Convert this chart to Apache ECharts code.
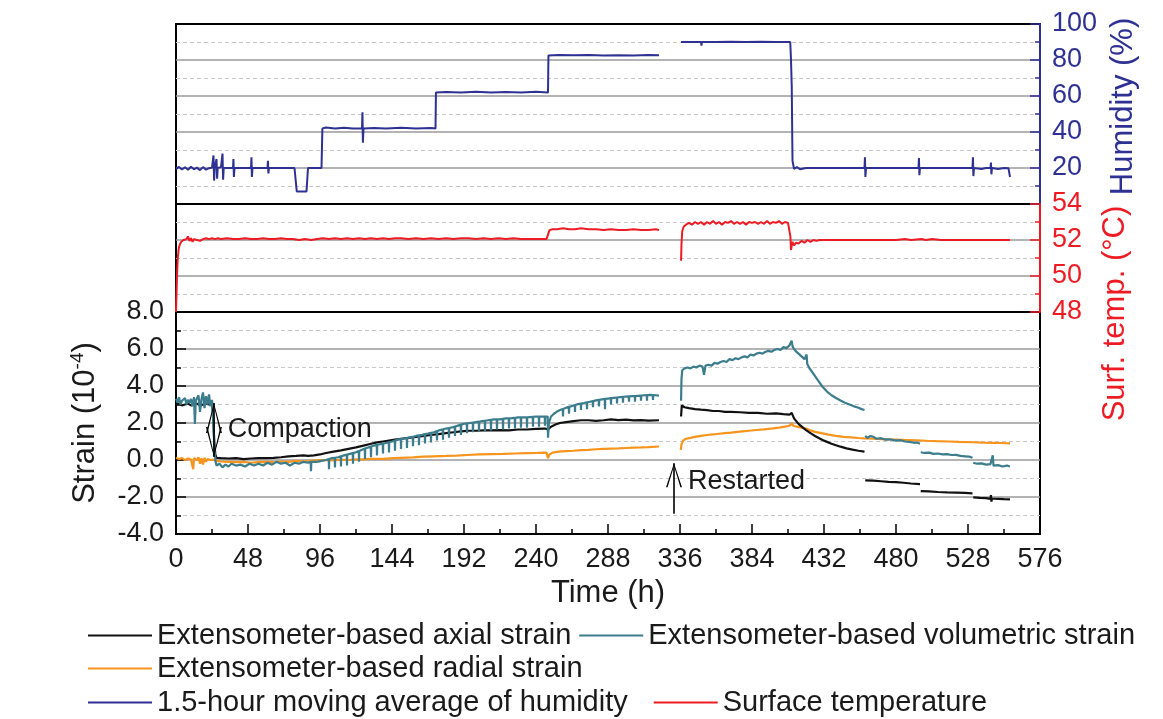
<!DOCTYPE html>
<html>
<head>
<meta charset="utf-8">
<title>Strain, humidity and surface temperature</title>
<script src="https://cdn.jsdelivr.net/npm/echarts@6/dist/echarts.min.js"></script>
<style>
  html, body { margin: 0; padding: 0; background: #fff; }
  #chart { width: 1163px; height: 719px; }
</style>
</head>
<body>
<div id="chart"></div>
<script>
// ---- data: [time (h), value]; null marks a break in the record ----
const timeTicks = [0, 48, 96, 144, 192, 240, 288, 336, 384, 432, 480, 528, 576];

const humidity = [
  [0,19.5],[2,20.6],[4,19.2],[6,20.4],[8,19.0],[10,20.7],[12,19.3],[14,20.2],[16,18.8],[18,20.5],[20,19.1],[22,19.9],[24,20.2],
  [25,27],[25.4,13],[25.8,20],[27,25],[27.4,14],[27.8,20],[30,20.5],[31,28],[31.4,13.5],[31.8,20],[34,20],[38,20],[38.3,25],[38.6,15],[39,20],
  [44,20],[50,20],[50.3,26],[50.6,15],[51,20],[56,20],[61,20],[61.3,24],[61.6,17],[62,20],[70,20],[79,20],[80.5,7],[87,7],[88,20],
  [92,20],[97,20],[97.6,42],[100,42.5],[106,42],[112,42.3],[118,42],[124,42],[124.3,51],[124.6,34],[125,42],[132,42.2],[140,42],
  [150,42.3],[160,42],[170,42.2],[173,42],[173.3,62],[180,62.2],[190,62],[200,62.3],[210,62],[220,62.2],[230,62],[240,62.3],[248,62],
  [248.3,82.5],[255,82.8],[265,82.6],[275,82.8],[285,82.5],[295,82.7],[305,82.5],[315,82.8],[322,82.6],
  [329,null],
  [336.7,90],[345,90],[350,90],[350.3,88],[350.6,90],[360,90],[370,90.2],[380,90],[390,90.2],[400,90],[409.5,90],[410,80],[410.5,65],
  [411,24],[412,19.5],[414,20.5],[416,19.3],[420,20],[430,20],[440,20],[450,20],[459,20],[459.3,26],[459.6,15],[460,20],[470,20],
  [480,20],[490,20],[495,20],[495.3,25.5],[495.6,16],[496,20],[505,20],[515,20],[525,20],[531,20],[531.3,26],[531.6,15.5],[532,20],
  [537,19.5],[540,20],[543,20],[543.3,23],[543.6,16.5],[544,20],[548,19.5],[552,20],[555,19.8],[556,15]
];

const surfaceTemp = [
  [0,48],[0.4,49.2],[0.8,50.3],[1.2,51.0],[1.8,51.5],[2.5,51.75],[3.5,51.9],[5,52.0],[7,52.05],[8,52.2],[9,51.95],[10,52.1],[11,51.9],
  [12,52.05],[14,52.0],[16,51.95],[18,52.05],[20,52.1],[22,52.05],[24,52.1],[26,52.05],[28,52.1],[30,52.05],[34,52.1],[38,52.05],
  [42,52.05],[46,52.1],[50,52.05],[54,52.05],[58,52.1],[62,52.05],[66,52.05],[70,52.1],[74,52.05],[78,52.05],[82,52.0],[86,52.05],
  [90,52.0],[94,52.05],[98,52.1],[102,52.05],[106,52.1],[110,52.05],[114,52.1],[118,52.05],[122,52.1],[126,52.05],[130,52.1],
  [134,52.05],[138,52.1],[142,52.05],[146,52.1],[150,52.1],[155,52.05],[160,52.1],[165,52.05],[170,52.1],[175,52.05],[180,52.1],
  [185,52.05],[190,52.1],[195,52.1],[200,52.05],[205,52.1],[210,52.05],[215,52.1],[220,52.05],[225,52.1],[230,52.05],[235,52.05],
  [240,52.05],[244,52.05],[247,52.05],[248,52.3],[249,52.55],[251,52.6],[254,52.6],[258,52.65],[262,52.6],[266,52.6],[270,52.65],
  [275,52.6],[280,52.6],[285,52.55],[290,52.6],[295,52.55],[300,52.55],[305,52.6],[310,52.55],[315,52.55],[320,52.6],[322,52.55],
  [329,null],
  [336.7,50.85],[337,51.8],[337.5,52.5],[338.5,52.75],[340,52.85],[342,52.95],[344,52.85],[346,53.0],[348,52.9],[350,53.0],
  [352,52.85],[354,53.0],[356,52.9],[358,53.05],[360,52.9],[362,53.0],[364,52.85],[366,53.0],[368,52.95],[370,53.05],[372,52.9],
  [374,53.0],[376,52.9],[378,53.0],[380,52.85],[382,53.0],[384,52.95],[386,53.0],[388,52.9],[390,53.0],[392,52.9],[394,53.05],
  [396,52.9],[398,53.0],[400,52.95],[402,53.05],[404,52.9],[406,53.0],[408,52.95],[409.3,53.0],[409.6,52.2],[410,51.45],[411,51.9],
  [412,51.7],[413.5,51.85],[415,51.8],[417,51.95],[419,51.85],[421,52.0],[423,51.9],[425,52.0],[427,51.95],[429,52.0],[440,52.0],
  [450,52.0],[460,52.0],[470,52.0],[480,52.0],[486,52.05],[490,52.0],[497,52.05],[500,52.0],[504,52.05],[510,52.0],[520,52.0],
  [530,52.0],[540,52.0],[550,52.0],[556,52.0]
];

const axialStrain = [
  [0,3.0],[2,3.05],[4,2.95],[6,3.0],[8,3.05],[10,2.95],[12,3.0],[14,3.05],[16,2.95],[18,3.0],[20,3.05],[22,3.0],[24,3.1],
  [24.8,2.4],[25.5,1.0],[26.2,0.3],[27,0.12],[30,0.1],[35,0.08],[40,0.1],[45,0.05],[50,0.08],[55,0.1],[60,0.1],[65,0.12],
  [70,0.15],[75,0.2],[80,0.22],[85,0.25],[88,0.22],[92,0.25],[96,0.3],[100,0.38],[105,0.45],[110,0.52],[115,0.6],[120,0.68],
  [125,0.78],[130,0.88],[134,0.95],[138,1.0],[142,1.05],[146,1.1],[150,1.15],[155,1.2],[160,1.25],[165,1.3],[170,1.35],
  [175,1.4],[180,1.45],[185,1.5],[190,1.55],[195,1.58],[200,1.58],[205,1.6],[210,1.6],[216,1.62],[222,1.6],[228,1.65],
  [234,1.65],[240,1.68],[246,1.7],[248,1.65],[250,1.8],[253,1.92],[256,2.0],[260,2.05],[265,2.1],[270,2.15],[275,2.15],
  [280,2.12],[285,2.15],[290,2.2],[295,2.16],[300,2.18],[305,2.14],[310,2.16],[315,2.13],[322,2.15],
  [329,null],
  [336.7,2.35],[337.2,2.95],[339,2.85],[342,2.8],[346,2.75],[350,2.72],[354,2.7],[358,2.65],[362,2.65],[366,2.6],[370,2.6],
  [376,2.58],[382,2.55],[388,2.55],[394,2.5],[400,2.52],[405,2.48],[409,2.45],[410.5,2.55],[412,2.25],[415,1.95],[418,1.75],
  [420,1.62],[423,1.45],[426,1.3],[431,1.08],[434,0.98],[437,0.88],[440,0.8],[443,0.72],[447,0.63],[451,0.56],[455,0.5],[459,0.45],
  [459.2,null],
  [459.5,-1.1],[465,-1.12],[470,-1.15],[475,-1.18],[480,-1.2],[485,-1.23],[490,-1.27],[496,-1.3],
  [496.2,null],
  [496.5,-1.68],[502,-1.7],[508,-1.73],[514,-1.75],[520,-1.76],[526,-1.78],[531,-1.8],
  [531.2,null],
  [531.5,-2.02],[536,-2.05],[540,-2.06],[543,-2.1],[543.3,-1.9],[543.6,-2.25],[544,-2.08],[548,-2.1],[552,-2.12],[556,-2.13]
];

const volumetricStrain = [
  [0,3.3],[1,3.1],[2,3.4],[3,3.0],[4,3.2],[5,3.15],[6,3.35],[7,3.0],[8,3.25],[9,3.1],[10,3.3],[11,2.9],[12,3.4],[12.6,1.95],
  [13.2,3.2],[14,3.1],[15,3.5],[16,2.6],[17,3.3],[18,3.65],[19,2.8],[20,3.45],[21,3.0],[22,3.55],[23,2.9],[24,3.25],[24.8,2.2],
  [25.6,0.6],[26.4,-0.1],[27,-0.3],[29,-0.2],[31,-0.4],[33,-0.25],[35,-0.35],[37,-0.2],[40,-0.3],[43,-0.25],[46,-0.35],[49,-0.2],
  [52,-0.3],[55,-0.2],[58,-0.3],[61,-0.15],[64,-0.25],[67,-0.1],[70,-0.2],[73,-0.15],[76,-0.3],[79,-0.15],[82,-0.2],[85,-0.1],
  [88,-0.15],[89.8,-0.1],[90,-0.6],[90.2,-0.1],[94,-0.1],[97,-0.05],
  [100,0.0],[101.85,0.05],[102,-0.5],[102.15,0.05],[104,0.1],[105.85,0.12],[106,-0.4],[106.15,0.12],[108,0.15],[109.85,0.2],[110,-0.35],[110.15,0.2],
  [112,0.25],[113.85,0.29],[114,-0.3],[114.15,0.29],[116,0.33],[117.85,0.37],[118,-0.2],[118.15,0.37],[120,0.42],[121.85,0.48],[122,-0.1],[122.15,0.48],
  [124,0.55],[125.85,0.62],[126,0.05],[126.15,0.62],[128,0.68],[129.85,0.73],[130,0.15],[130.15,0.73],[132,0.78],[133.85,0.82],[134,0.25],[134.15,0.82],
  [136,0.85],[137.85,0.88],[138,0.35],[138.15,0.88],[140,0.92],[141.85,0.96],[142,0.4],[142.15,0.96],[144,1.0],[145.85,1.05],[146,0.5],[146.15,1.05],
  [148,1.1],[149.85,1.13],[150,0.6],[150.15,1.13],[152,1.16],[153.85,1.19],[154,0.65],[154.15,1.19],[156,1.22],[157.85,1.26],[158,0.75],[158.15,1.26],
  [160,1.3],[161.85,1.33],[162,0.8],[162.15,1.33],[164,1.36],[165.85,1.4],[166,0.9],[166.15,1.4],[168,1.43],[169.85,1.47],[170,0.95],[170.15,1.47],
  [172,1.5],[173.85,1.56],[174,1.05],[174.15,1.56],[176,1.62],[177.85,1.66],[178,1.1],[178.15,1.66],[180,1.7],[181.85,1.73],[182,1.2],[182.15,1.73],
  [184,1.76],[185.85,1.81],[186,1.3],[186.15,1.81],[188,1.86],[189.85,1.91],[190,1.35],[190.15,1.91],[192,1.96],[193.85,1.98],[194,1.45],[194.15,1.98],
  [196,2.0],[197.85,2.02],[198,1.5],[198.15,2.02],[200,2.05],[201.85,2.07],[202,1.55],[202.15,2.07],[204,2.1],[205.85,2.12],[206,1.55],[206.15,2.12],
  [208,2.15],[209.85,2.17],[210,1.6],[210.15,2.17],[212,2.2],[213.85,2.2],[214,1.65],[214.15,2.2],[216,2.2],[217.85,2.22],[218,1.65],[218.15,2.22],
  [220,2.25],[221.85,2.25],[222,1.7],[222.15,2.25],[224,2.26],[225.85,2.28],[226,1.7],[226.15,2.28],[228,2.3],[229.85,2.3],[230,1.75],[230.15,2.3],
  [232,2.3],[233.85,2.31],[234,1.75],[234.15,2.31],[236,2.32],[237.85,2.33],[238,1.8],[238.15,2.33],[240,2.35],[241.85,2.35],[242,1.8],[242.15,2.35],
  [244,2.35],[245.85,2.35],[246,1.85],[246.15,2.35],[247.8,2.35],[248,1.2],[248.6,2.0],[250,2.35],[252,2.5],[254,2.62],
  [256,2.7],[257.85,2.76],[258,2.35],[258.15,2.76],[260,2.82],[261.85,2.87],[262,2.5],[262.15,2.87],[264,2.92],[265.85,2.97],[266,2.6],[266.15,2.97],
  [268,3.02],[269.85,3.05],[270,2.7],[270.15,3.05],[272,3.08],[273.85,3.12],[274,2.75],[274.15,3.12],[276,3.15],[277.85,3.18],[278,2.85],[278.15,3.18],
  [280,3.22],[281.85,3.25],[282,2.9],[282.15,3.25],[284,3.28],[285.85,3.3],[286,2.75],[286.15,3.3],[288,3.32],[289.85,3.34],[290,3.0],[290.15,3.34],
  [292,3.36],[293.85,3.38],[294,3.05],[294.15,3.38],[296,3.4],[297.85,3.42],[298,3.1],[298.15,3.42],[300,3.43],[301.85,3.44],[302,3.15],[302.15,3.44],
  [304,3.45],[305.85,3.46],[306,3.15],[306.15,3.46],[308,3.47],[309.85,3.48],[310,3.2],[310.15,3.48],[312,3.5],[313.85,3.51],[314,3.2],[314.15,3.51],
  [316,3.52],[317.85,3.51],[318,3.25],[318.15,3.51],[320,3.5],[322,3.48],
  [329,null],
  [336.7,3.2],[337,4.4],[337.5,4.85],[339,4.95],[341,5.0],[343,4.95],[345,5.05],[347,5.0],[349,5.1],[351,5.05],[352,4.6],[353,5.1],
  [355,5.15],[357,5.1],[359,5.25],[361,5.2],[363,5.3],[365,5.35],[367,5.3],[369,5.45],[371,5.4],[373,5.5],[375,5.45],[377,5.55],
  [379,5.6],[381,5.55],[383,5.7],[385,5.65],[387,5.75],[389,5.8],[391,5.75],[393,5.85],[395,5.9],[397,5.85],[399,5.95],[401,6.0],
  [403,5.95],[405,6.1],[407,6.05],[409,6.2],[410.4,6.45],[411.2,6.1],[413,5.9],[415,5.75],[417,5.6],[419,5.45],[420,5.35],
  [420.4,5.7],[420.8,5.2],[422,5.0],[425,4.65],[428,4.3],[431,3.96],[434,3.7],[437,3.5],[440,3.35],[443,3.22],[446,3.1],[449,3.0],
  [452,2.9],[455,2.82],[457,2.75],[459,2.7],
  [459.2,null],
  [459.5,1.3],[461,1.2],[463,1.3],[465,1.25],[467,1.15],[470,1.18],[473,1.1],[476,1.12],[480,1.05],[483,1.07],[486,1.0],[489,0.98],
  [492,0.93],[494,0.95],[496,0.88],
  [496.2,null],
  [496.5,0.42],[499,0.38],[502,0.4],[505,0.33],[508,0.35],[511,0.3],[514,0.32],[517,0.27],[520,0.28],[523,0.22],[526,0.2],[529,0.18],[531,0.12],
  [531.2,null],
  [531.5,-0.15],[534,-0.2],[537,-0.18],[540,-0.25],[543,-0.22],[544.5,0.25],[545,-0.3],[548,-0.28],[551,-0.35],[554,-0.3],[556,-0.35]
];

const radialStrain = [
  [0,0.12],[2,0.05],[4,0.1],[6,0.0],[8,0.08],[10,0.02],[11.5,-0.5],[12,0.1],[14,0.0],[15,0.15],[16,-0.2],[17,0.1],[18,-0.25],
  [19,0.12],[20,-0.1],[21,0.05],[23,0.0],[25,0.02],[27,-0.05],[30,-0.08],[35,-0.1],[40,-0.12],[45,-0.1],[50,-0.15],[55,-0.12],
  [60,-0.1],[65,-0.12],[70,-0.08],[75,-0.1],[80,-0.05],[85,-0.08],[90,-0.05],[95,-0.02],[100,0.0],[105,-0.02],[110,0.02],[115,0.0],
  [120,0.04],[125,0.03],[130,0.06],[138,0.06],[145,0.1],[150,0.12],[158,0.14],[165,0.18],[172,0.2],[180,0.22],[187,0.24],[194,0.27],
  [202,0.3],[210,0.32],[218,0.33],[226,0.35],[234,0.37],[241,0.38],[247,0.4],[248,0.1],[249,0.3],[251,0.4],[255,0.45],[260,0.48],
  [265,0.5],[270,0.53],[275,0.55],[280,0.58],[285,0.6],[290,0.62],[295,0.63],[300,0.65],[305,0.67],[310,0.68],[315,0.7],[322,0.73],
  [329,null],
  [336.5,0.55],[337,0.85],[338,1.05],[340,1.15],[343,1.2],[346,1.25],[350,1.3],[354,1.35],[358,1.38],[362,1.42],[366,1.45],[370,1.48],
  [376,1.53],[382,1.58],[387,1.62],[392,1.66],[398,1.71],[402,1.75],[406,1.8],[409,1.85],[410.3,1.98],[411.5,1.85],[414,1.8],
  [417,1.75],[420,1.7],[423,1.6],[426,1.52],[431,1.44],[435,1.37],[440,1.3],[445,1.25],[450,1.22],[455,1.19],[459,1.17],[465,1.15],
  [470,1.13],[475,1.11],[480,1.1],[487,1.08],[494,1.06],[500,1.04],[507,1.02],[515,1.0],[522,0.98],[531,0.96],[538,0.94],[545,0.93],
  [550,0.92],[556,0.9]
];

// annotation anchors in data units (time, strain)
const compactionArrow = [[25.3, 3.08], [25.3, 0.16]];
const compactionLabel = [34.5, 1.62];
const restartArrow = [[332, -2.9], [332, -0.18]];
const restartLabel = [341.3, -1.17];

// ---- styling ----
const FONT = '"Liberation Sans", Arial, Helvetica, sans-serif';
const TEXT = '#1a1a1a';
const C_AXIAL = '#111111';
const C_VOL = '#3b7d8c';
const C_RAD = '#f7941d';
const C_HUM = '#2e3192';
const C_TEMP = '#ed1c24';
const MAJOR_GRID = { show: true, showMinLine: false, showMaxLine: false, lineStyle: { color: '#9a9a9a', width: 1.5 } };
const MINOR_GRID = { show: true, lineStyle: { color: '#c9c9c9', width: 1, type: [4, 3] } };
const chevron = 'path://M8,0 L16,30 L14.4,30 L8,3.2 L1.6,30 L0,30 Z';
const legendLine = 'path://M0,0 L64,0 L64,2 L0,2 Z';

const toSeries = arr => arr.map(p => [p[0], p[1] === null ? '-' : p[1]]);

const GL = 176, GR = 123;
const gridBase = { left: GL, right: GR, show: true, borderColor: '#000', borderWidth: 2, backgroundColor: 'transparent' };

const chart = echarts.init(document.getElementById('chart'), null, { renderer: 'canvas' });

const hiddenX = (gi) => ({
  type: 'value', gridIndex: gi, min: 0, max: 576, interval: 48,
  axisLine: { show: false, onZero: false }, axisTick: { show: false }, axisLabel: { show: false }, splitLine: { show: false }
});

const option = {
  animation: false,
  backgroundColor: '#fff',
  textStyle: { fontFamily: FONT },
  grid: [
    Object.assign({ top: 24, height: 180 }, gridBase),
    Object.assign({ top: 204, height: 108 }, gridBase),
    Object.assign({ top: 312, height: 222 }, gridBase)
  ],
  xAxis: [
    hiddenX(0),
    hiddenX(1),
    {
      type: 'value', gridIndex: 2, min: 0, max: 576, interval: 48,
      name: 'Time (h)', nameLocation: 'middle', nameGap: 44,
      nameTextStyle: { fontSize: 31, color: TEXT, fontFamily: FONT },
      axisLine: { show: true, onZero: false, lineStyle: { color: '#000', width: 2 } },
      axisTick: { show: true, inside: true, length: 10, lineStyle: { color: '#000', width: 1.5 } },
      minorTick: { show: true, splitNumber: 2, length: 5, lineStyle: { color: '#000', width: 1.5 } },
      axisLabel: { fontSize: 27, color: TEXT, margin: 12, fontFamily: FONT, customValues: timeTicks },
      splitLine: { show: false }
    }
  ],
  yAxis: [
    {
      type: 'value', gridIndex: 0, position: 'right', min: 0, max: 100, interval: 20,
      name: 'Humidity (%)', nameLocation: 'middle', nameGap: 60,
      nameTextStyle: { fontSize: 31, color: C_HUM, fontFamily: FONT, padding: [0, 0, 0, 15] },
      axisLine: { show: true, onZero: false, lineStyle: { color: C_HUM, width: 2 } },
      axisTick: { show: true, inside: true, length: 10, lineStyle: { color: C_HUM, width: 1.5 } },
      minorTick: { show: true, splitNumber: 2, length: 5, lineStyle: { color: C_HUM, width: 1.5 } },
      axisLabel: { fontSize: 27, color: C_HUM, margin: 12, fontFamily: FONT, formatter: v => (v === 0 ? '' : String(v)) },
      splitLine: MAJOR_GRID, minorSplitLine: MINOR_GRID
    },
    {
      type: 'value', gridIndex: 1, position: 'right', min: 48, max: 54, interval: 2,
      name: 'Surf. temp. (°C)', nameLocation: 'middle', nameGap: 60,
      nameTextStyle: { fontSize: 31, color: C_TEMP, fontFamily: FONT, padding: [0, 111, 0, 0] },
      axisLine: { show: true, onZero: false, lineStyle: { color: C_TEMP, width: 2 } },
      axisTick: { show: true, inside: true, length: 10, lineStyle: { color: C_TEMP, width: 1.5 } },
      minorTick: { show: true, splitNumber: 2, length: 5, lineStyle: { color: C_TEMP, width: 1.5 } },
      axisLabel: { fontSize: 27, color: C_TEMP, margin: 12, fontFamily: FONT },
      splitLine: MAJOR_GRID, minorSplitLine: MINOR_GRID
    },
    {
      type: 'value', gridIndex: 2, position: 'left', min: -4, max: 8, interval: 2,
      name: '{a|Strain (10}{s|-4}{a|)}', nameLocation: 'middle', nameGap: 74,
      nameTextStyle: {
        color: TEXT,
        rich: {
          a: { fontSize: 31, color: TEXT, fontFamily: FONT, lineHeight: 34 },
          s: { fontSize: 19, color: TEXT, fontFamily: FONT, verticalAlign: 'top', lineHeight: 34, padding: [0, 0, 14, 0] }
        }
      },
      axisLine: { show: true, onZero: false, lineStyle: { color: '#000', width: 2 } },
      axisTick: { show: true, inside: true, length: 10, lineStyle: { color: '#000', width: 1.5 } },
      minorTick: { show: true, splitNumber: 2, length: 5, lineStyle: { color: '#000', width: 1.5 } },
      axisLabel: { fontSize: 27, color: TEXT, margin: 12, fontFamily: FONT, formatter: v => v.toFixed(1) },
      splitLine: MAJOR_GRID, minorSplitLine: MINOR_GRID
    }
  ],
  legend: [
    {
      left: 88, top: 621, itemGap: 8,
      data: ['Extensometer-based axial strain', 'Extensometer-based volumetric strain']
    },
    {
      left: 88, top: 654,
      data: ['Extensometer-based radial strain']
    },
    {
      left: 88, top: 688, itemGap: 26,
      data: ['1.5-hour moving average of humidity', 'Surface temperature']
    }
  ].map(l => Object.assign({
    orient: 'horizontal', padding: 0, itemWidth: 64, itemHeight: 2, icon: legendLine, selectedMode: false,
    textStyle: { fontSize: 29, color: TEXT, fontFamily: FONT }
  }, l)),
  series: [
    {
      name: '1.5-hour moving average of humidity', type: 'line', xAxisIndex: 0, yAxisIndex: 0,
      data: toSeries(humidity), symbol: 'none', connectNulls: false,
      lineStyle: { color: C_HUM, width: 2 }, itemStyle: { color: C_HUM }
    },
    {
      name: 'Surface temperature', type: 'line', xAxisIndex: 1, yAxisIndex: 1,
      data: toSeries(surfaceTemp), symbol: 'none', connectNulls: false,
      lineStyle: { color: C_TEMP, width: 2 }, itemStyle: { color: C_TEMP }
    },
    {
      name: 'Extensometer-based radial strain', type: 'line', xAxisIndex: 2, yAxisIndex: 2, z: 2,
      data: toSeries(radialStrain), symbol: 'none', connectNulls: false,
      lineStyle: { color: C_RAD, width: 2.2 }, itemStyle: { color: C_RAD }
    },
    {
      name: 'Extensometer-based axial strain', type: 'line', xAxisIndex: 2, yAxisIndex: 2, z: 3,
      data: toSeries(axialStrain), symbol: 'none', connectNulls: false,
      lineStyle: { color: C_AXIAL, width: 2.2 }, itemStyle: { color: C_AXIAL },
      markLine: {
        silent: true, animation: false,
        label: { show: false },
        lineStyle: { color: '#000', width: 1.6, type: 'solid' },
        emphasis: { disabled: true },
        data: [
          [
            { coord: compactionArrow[0], symbol: chevron, symbolSize: [16, 30], symbolOffset: [0, 15] },
            { coord: compactionArrow[1], symbol: chevron, symbolSize: [16, 30], symbolOffset: [0, 15] }
          ],
          [
            { coord: restartArrow[0], symbol: 'none' },
            { coord: restartArrow[1], symbol: chevron, symbolSize: [16, 24], symbolOffset: [0, 12] }
          ]
        ]
      },
      markPoint: {
        silent: true, animation: false, symbol: 'circle', symbolSize: 0,
        label: { show: true, position: 'right', distance: 0, fontSize: 27, color: TEXT, fontFamily: FONT },
        data: [
          { coord: compactionLabel, label: { formatter: 'Compaction' } },
          { coord: restartLabel, label: { formatter: 'Restarted' } }
        ]
      }
    },
    {
      name: 'Extensometer-based volumetric strain', type: 'line', xAxisIndex: 2, yAxisIndex: 2, z: 4,
      data: toSeries(volumetricStrain), symbol: 'none', connectNulls: false,
      lineStyle: { color: C_VOL, width: 2.2 }, itemStyle: { color: C_VOL }
    }
  ]
};

chart.setOption(option);
</script>
</body>
</html>
